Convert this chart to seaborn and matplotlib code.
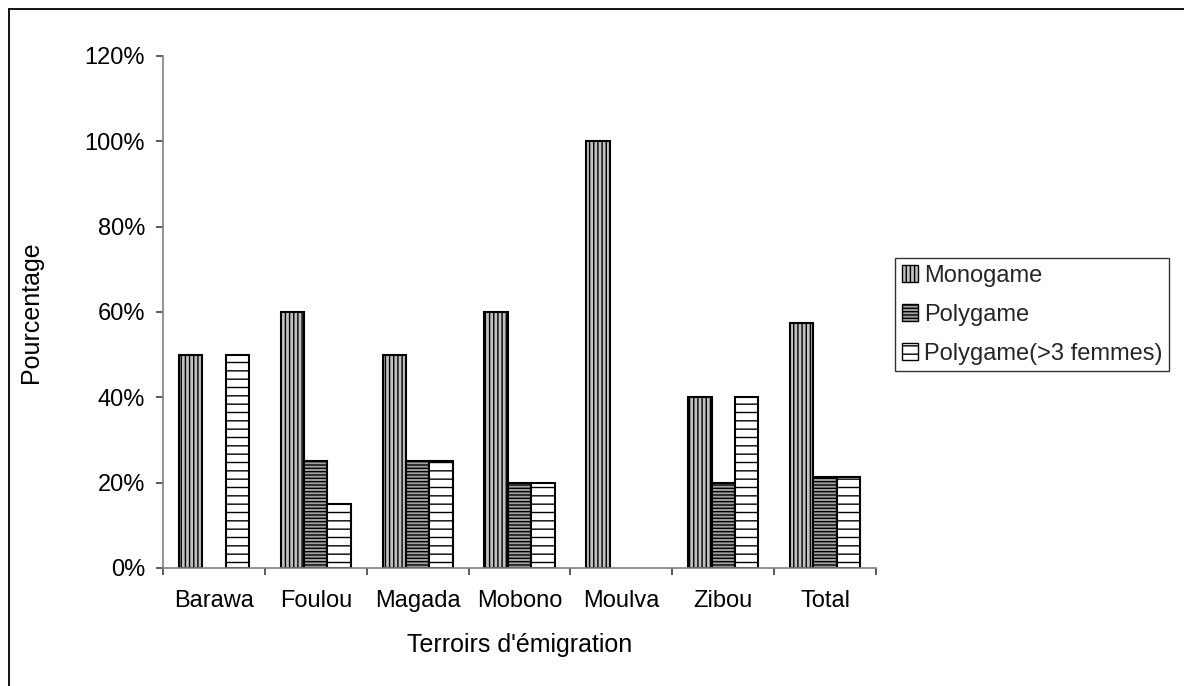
import matplotlib
matplotlib.use("Agg")
import matplotlib.pyplot as plt
import seaborn as sns
import pandas as pd
import numpy as np
from matplotlib.patches import Patch
from matplotlib.lines import Line2D
from matplotlib.ticker import PercentFormatter, FixedLocator

categories = ["Barawa", "Foulou", "Magada", "Mobono", "Moulva", "Zibou", "Total"]
series_names = ["Monogame", "Polygame", "Polygame(>3 femmes)"]
monogame = [50, 60, 50, 60, 100, 40, 57.4]
polygame = [0, 25, 25, 20, 0, 20, 21.3]
polygame3 = [50, 15, 25, 20, 0, 40, 21.3]

rows = []
for name, vals in zip(series_names, [monogame, polygame, polygame3]):
    for c, v in zip(categories, vals):
        rows.append({"cat": c, "serie": name, "val": v})
df = pd.DataFrame(rows)

sns.set_theme(style="white")
plt.rcParams["font.family"] = ["Liberation Sans", "DejaVu Sans"]
plt.rcParams["hatch.linewidth"] = 1.0
plt.rcParams["hatch.color"] = "black"

fig = plt.figure(figsize=(11.84, 6.86), dpi=100)
ax = fig.add_axes([163/1184, 1-568/686, (876-163)/1184, (568-56)/686])

sns.barplot(data=df, x="cat", y="val", hue="serie", order=categories,
            hue_order=series_names, width=0.69, gap=0, ax=ax, legend=False,
            palette=["#c0c0c0", "#a0a0a0", "#ffffff"], saturation=1)

styles = [("#c0c0c0", "||||"), ("#a0a0a0", "-----"), ("#ffffff", "--")]
for cont, (fc, h) in zip(ax.containers, styles):
    for p in cont.patches:
        p.set_facecolor(fc)
        p.set_hatch(h)
        p.set_edgecolor("black")
        p.set_linewidth(1.5)
        if p.get_height() == 0:
            p.set_visible(False)

ax.set_xlim(-0.5, len(categories) - 0.5)
ax.set_ylim(0, 120)
ax.yaxis.set_major_locator(FixedLocator([0, 20, 40, 60, 80, 100, 120]))
ax.yaxis.set_major_formatter(PercentFormatter(decimals=0))

for s in ["top", "right"]:
    ax.spines[s].set_visible(False)
for s in ["left", "bottom"]:
    ax.spines[s].set_color("#808080")
    ax.spines[s].set_linewidth(1.2)

ax.tick_params(axis="y", which="major", left=True, length=5, width=1.2,
               color="#404040", labelsize=17, pad=8, labelcolor="black")
ax.tick_params(axis="x", which="major", bottom=True, length=0, labelsize=17,
               pad=16, labelcolor="black")
ax.xaxis.set_minor_locator(FixedLocator(np.arange(-0.5, len(categories), 1.0)))
ax.tick_params(axis="x", which="minor", bottom=True, length=5, width=1.2,
               color="#404040")

ax.set_xlabel("Terroirs d'émigration", fontsize=18, labelpad=15, color="black")
ax.set_ylabel("Pourcentage", fontsize=18, labelpad=30, color="black")

handles = [Patch(facecolor=fc, edgecolor="black", hatch=h, linewidth=1.0, label=n)
           for n, (fc, h) in zip(series_names, styles)]
leg = fig.legend(handles=handles, loc="upper left",
                 bbox_to_anchor=(895/1184, 1-258/686), fontsize=17,
                 frameon=True, fancybox=False, shadow=False,
                 handlelength=0.7, handleheight=0.7, handletextpad=0.25,
                 labelspacing=0.72, borderpad=0.28, borderaxespad=0)
leg.get_frame().set_edgecolor("black")
leg.get_frame().set_linewidth(1.0)

fig.add_artist(Line2D([9/1184, 9/1184], [0, 1-9/686], color="black", lw=1.3,
                      transform=fig.transFigure))
fig.add_artist(Line2D([9/1184, 1], [1-9/686, 1-9/686], color="black", lw=1.3,
                      transform=fig.transFigure))

fig.savefig("out.png", dpi=100)
